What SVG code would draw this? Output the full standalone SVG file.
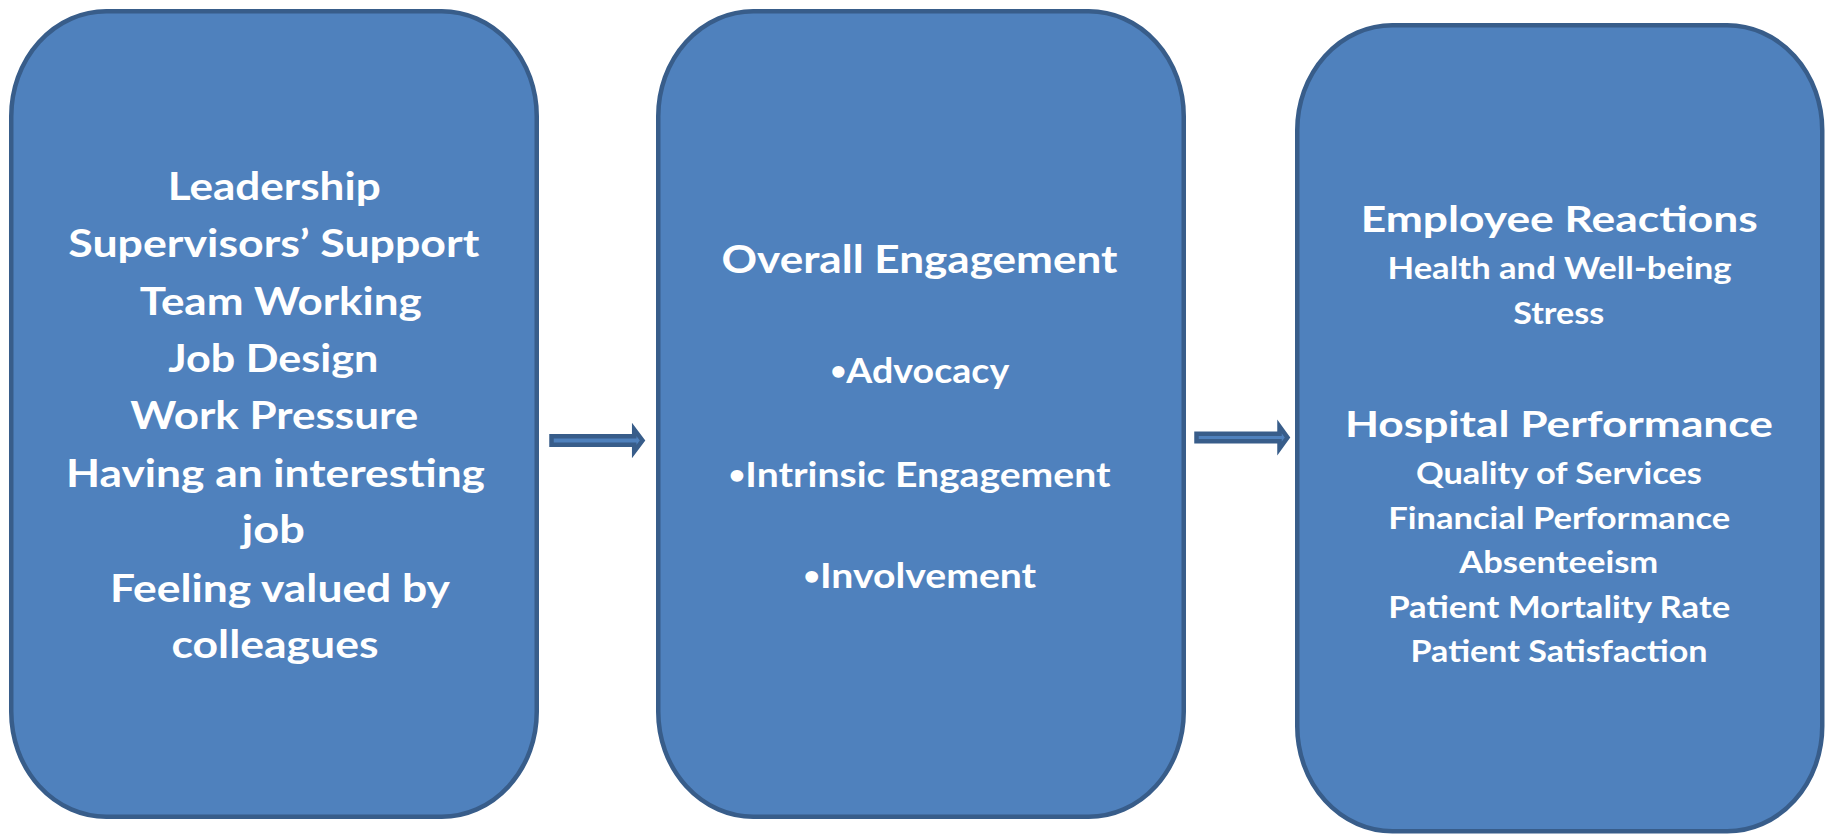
<svg xmlns="http://www.w3.org/2000/svg" width="1830" height="835" viewBox="0 0 1830 835">
  <style>
    .box { fill: #4F81BD; stroke: #385D8A; stroke-width: 4.5; }
    .arrow { fill: #4F81BD; stroke: #385D8A; stroke-width: 4.5; stroke-linejoin: miter; stroke-miterlimit: 10; }
    text { font-family: Lato, "Open Sans", "Liberation Sans", sans-serif; font-weight: bold; fill: #FFFFFF; text-anchor: middle; }
    .h1 { font-size: 39px; }
    .b2 { font-size: 35px; }
    .dot { font-size: 26px; }
    .h3 { font-size: 37px; }
    .s3 { font-size: 30px; }
  </style>
  <rect width="1830" height="835" fill="#FFFFFF"/>

  <g id="connectors">
    <path class="arrow" d="M551.5,436.25 H634.2 V429.5 L642.5,440.5 L634.2,451.5 V444.75 H551.5 Z"/>
    <path class="arrow" d="M1196.5,433.75 H1279.5 V426.5 L1287.5,437.5 L1279.5,448.5 V441.25 H1196.5 Z"/>
  </g>

  <g id="drivers">
    <rect class="box" x="11.25" y="11.25" width="525.5" height="805.5" rx="95" ry="105"/>
    <text class="h1" x="274.2" y="200" textLength="213" lengthAdjust="spacingAndGlyphs">Leadership</text>
    <text class="h1" x="273.8" y="257.3" textLength="411" lengthAdjust="spacingAndGlyphs">Supervisors’ Support</text>
    <text class="h1" x="280.8" y="315" textLength="282" lengthAdjust="spacingAndGlyphs">Team Working</text>
    <text class="h1" x="273.3" y="371.7" textLength="210" lengthAdjust="spacingAndGlyphs">Job Design</text>
    <text class="h1" x="274.2" y="429.3" textLength="288" lengthAdjust="spacingAndGlyphs">Work Pressure</text>
    <text class="h1" x="275.5" y="486.7" textLength="419" lengthAdjust="spacingAndGlyphs">Having an interesting</text>
    <text class="h1" x="273.3" y="543.3" textLength="63" lengthAdjust="spacingAndGlyphs">job</text>
    <text class="h1" x="280" y="601.7" textLength="340" lengthAdjust="spacingAndGlyphs">Feeling valued by</text>
    <text class="h1" x="275" y="658.3" textLength="207" lengthAdjust="spacingAndGlyphs">colleagues</text>
  </g>

  <g id="engagement">
    <rect class="box" x="658.25" y="11.25" width="525.5" height="805.5" rx="95" ry="105"/>
    <text class="h1" x="919.5" y="273.3" textLength="396" lengthAdjust="spacingAndGlyphs">Overall Engagement</text>
    <text class="b2" x="919.7" y="383.3" textLength="179" lengthAdjust="spacingAndGlyphs"><tspan class="dot" dy="-3">•</tspan><tspan dy="3">Advocacy</tspan></text>
    <text class="b2" x="919.5" y="486.7" textLength="382" lengthAdjust="spacingAndGlyphs"><tspan class="dot" dy="-3">•</tspan><tspan dy="3">Intrinsic Engagement</tspan></text>
    <text class="b2" x="919.7" y="588.3" textLength="233" lengthAdjust="spacingAndGlyphs"><tspan class="dot" dy="-3">•</tspan><tspan dy="3">Involvement</tspan></text>
  </g>

  <g id="outcomes">
    <rect class="box" x="1297.25" y="25.25" width="525" height="806" rx="95" ry="105"/>
    <text class="h3" x="1559.2" y="231.7" textLength="397" lengthAdjust="spacingAndGlyphs">Employee Reactions</text>
    <text class="s3" x="1559.5" y="279" textLength="344" lengthAdjust="spacingAndGlyphs">Health and Well-being</text>
    <text class="s3" x="1558.7" y="324" textLength="91" lengthAdjust="spacingAndGlyphs">Stress</text>
    <text class="h3" x="1558.9" y="436.7" textLength="428" lengthAdjust="spacingAndGlyphs">Hospital Performance</text>
    <text class="s3" x="1558.9" y="484" textLength="286" lengthAdjust="spacingAndGlyphs">Quality of Services</text>
    <text class="s3" x="1559.2" y="529" textLength="342" lengthAdjust="spacingAndGlyphs">Financial Performance</text>
    <text class="s3" x="1558.8" y="573.3" textLength="199" lengthAdjust="spacingAndGlyphs">Absenteeism</text>
    <text class="s3" x="1559.2" y="617.7" textLength="342" lengthAdjust="spacingAndGlyphs">Patient Mortality Rate</text>
    <text class="s3" x="1559" y="662.3" textLength="297" lengthAdjust="spacingAndGlyphs">Patient Satisfaction</text>
  </g>
</svg>
